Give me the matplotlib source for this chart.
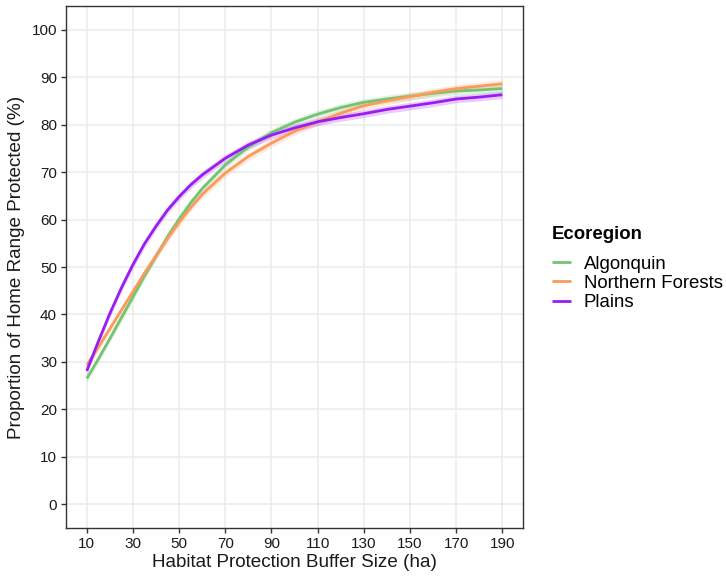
import matplotlib
matplotlib.use("Agg")
import matplotlib.pyplot as plt
import numpy as np

plt.rcParams['font.family'] = ['Liberation Sans', 'DejaVu Sans']

buffer_ha = [10, 15, 20, 25, 30, 35, 40, 45, 50, 55, 60, 70, 80, 90, 100, 110, 120, 130, 140, 150, 160, 170, 180, 190]
algonquin = [26.5, 30.6, 34.9, 39.3, 43.7, 48.1, 52.3, 56.4, 60.1, 63.5, 66.5, 71.5, 75.3, 78.3, 80.5, 82.2, 83.6, 84.7, 85.4, 86.0, 86.6, 87.1, 87.3, 87.6]
northern = [29.3, 33.1, 37.0, 40.9, 44.8, 48.7, 52.4, 56.0, 59.4, 62.5, 65.3, 69.8, 73.3, 76.1, 78.6, 80.6, 82.4, 84.0, 85.0, 85.9, 86.8, 87.6, 88.1, 88.6]
plains = [28.1, 34.3, 40.2, 45.6, 50.5, 54.9, 58.6, 62.0, 64.8, 67.3, 69.4, 72.9, 75.7, 77.8, 79.3, 80.6, 81.5, 82.3, 83.2, 83.9, 84.6, 85.4, 85.8, 86.3]
ci_half = [0.8, 0.8, 0.8]

series_names = ["Algonquin", "Northern Forests", "Plains"]
series_vals = [algonquin, northern, plains]
colors = ["#72c472", "#fb9a5a", "#9a1cf0"]

x_ticks = [10, 30, 50, 70, 90, 110, 130, 150, 170, 190]
y_ticks = [0, 10, 20, 30, 40, 50, 60, 70, 80, 90, 100]

fig = plt.figure(figsize=(7.26, 5.77), dpi=100)
ax = fig.add_axes([0.0909, 0.0849, 0.6295, 0.9047])

x = np.array(buffer_ha)
for name, vals, c, h in zip(series_names, series_vals, colors, ci_half):
    v = np.array(vals)
    ax.fill_between(x, v - h, v + h, color=c, alpha=0.22, linewidth=0, zorder=2)
    ax.plot(x, v, color=c, linewidth=2.0, label=name, zorder=3, solid_capstyle='butt',
            solid_joinstyle='round')

ax.set_xlim(1, 199)
ax.set_ylim(-5, 105)
ax.set_xticks(x_ticks)
ax.set_yticks(y_ticks)
ax.grid(True, color="#ebebeb", linewidth=1.1, zorder=0)
ax.set_axisbelow(True)
for s in ax.spines.values():
    s.set_color("#333333")
    s.set_linewidth(1.0)
ax.tick_params(axis='both', colors="#333333", length=3.5, width=1.0, labelsize=11,
               labelcolor="#1a1a1a", pad=3)

ax.set_xlabel("Habitat Protection Buffer Size (ha)", fontsize=13.6, color="#1a1a1a", labelpad=2)
ax.set_ylabel("Proportion of Home Range Protected (%)", fontsize=13.6, color="#1a1a1a", labelpad=5)

handles, labels = ax.get_legend_handles_labels()
leg = fig.legend(handles, labels, title="Ecoregion", loc="upper left",
                 bbox_to_anchor=(552 / 726, 1 - 226 / 577),
                 frameon=False, fontsize=13.4, handlelength=1.0, handletextpad=0.7,
                 labelspacing=0.12, borderaxespad=0, borderpad=0)
leg.get_title().set_fontweight('bold')
leg.get_title().set_fontsize(13.4)
leg._legend_box.align = "left"
leg._legend_box.sep = 9

fig.savefig("out.png", dpi=100)
